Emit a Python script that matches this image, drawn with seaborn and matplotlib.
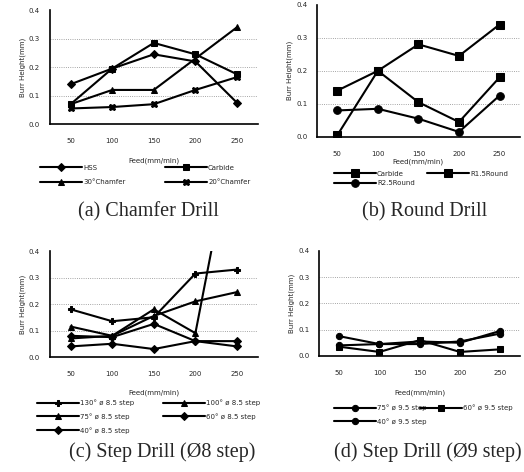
import numpy as np
import pandas as pd
import seaborn as sns
import matplotlib
matplotlib.use('Agg')
import matplotlib.pyplot as plt

# feed rates (mm/min)
feed = [50, 100, 150, 200, 250]

# (a) chamfer drill
chamfer_labels = ['HSS', 'Carbide', '30°Chamfer', '20°Chamfer']
chamfer_values = [
    [0.14, 0.195, 0.245, 0.22, 0.075],
    [0.07, 0.195, 0.285, 0.245, 0.175],
    [0.07, 0.12, 0.12, 0.23, 0.34],
    [0.055, 0.06, 0.07, 0.12, 0.165],
]

# (b) round drill
round_labels = ['Carbide', 'R1.5Round', 'R2.5Round']
round_values = [
    [0.14, 0.20, 0.28, 0.245, 0.34],
    [0.005, 0.20, 0.105, 0.045, 0.18],
    [0.08, 0.085, 0.055, 0.015, 0.125],
]

# (c) step drill, 8 step
step8_labels = ['130° ø 8.5 step', '100° ø 8.5 step', '75° ø 8.5 step',
                '60° ø 8.5 step', '40° ø 8.5 step']
step8_values = [
    [0.18, 0.135, 0.15, 0.315, 0.33],
    [0.115, 0.08, 0.18, 0.09, 0.90],
    [0.07, 0.08, 0.155, 0.21, 0.245],
    [0.08, 0.075, 0.125, 0.06, 0.04],
    [0.04, 0.05, 0.03, 0.06, 0.06],
]

# (d) step drill, 9 step
step9_labels = ['75° ø 9.5 step', '60° ø 9.5 step', '40° ø 9.5 step']
step9_values = [
    [0.075, 0.045, 0.055, 0.05, 0.095],
    [0.035, 0.015, 0.06, 0.015, 0.025],
    [0.04, 0.045, 0.045, 0.055, 0.085],
]

sns.set_theme(style='white')
plt.rcParams['font.family'] = ['DejaVu Sans']

W, H = 524, 472
fig = plt.figure(figsize=(W / 100, H / 100), dpi=100)


def to_frame(labels, values):
    rows = []
    for lab, vals in zip(labels, values):
        for f, v in zip(feed, vals):
            rows.append({'feed': f, 'burr': v, 'series': lab})
    return pd.DataFrame(rows)


def panel(rect, labels, values, markers, col_x, row_y, row_gap, xlabel_y, msize=4.5):
    ax = fig.add_axes(rect)
    df = to_frame(labels, values)
    sns.lineplot(data=df, x='feed', y='burr', hue='series', style='series',
                 palette=['black'] * len(labels), markers=markers, dashes=False,
                 linewidth=1.5, markersize=msize, markeredgecolor='black',
                 ax=ax, legend=True)
    ax.set_xlim(25, 275)
    ax.set_ylim(0, 0.4)
    ax.set_xticks(feed)
    ax.set_yticks([0.0, 0.1, 0.2, 0.3, 0.4])
    ax.set_yticklabels(['0.0', '0.1', '0.2', '0.3', '0.4'])
    ax.tick_params(axis='x', labelsize=5, length=0, pad=10)
    ax.tick_params(axis='y', labelsize=5, length=0, pad=7)
    for y in [0.1, 0.2, 0.3]:
        ax.axhline(y, color='#888888', lw=0.6, ls=':', zorder=0)
    for s in ['top', 'right']:
        ax.spines[s].set_visible(False)
    for s in ['left', 'bottom']:
        ax.spines[s].set_color('black')
        ax.spines[s].set_linewidth(1.2)
    ax.set_ylabel('Burr Height(mm)', fontsize=5, labelpad=2)
    ax.set_xlabel('')
    fig.text(rect[0] + rect[2] / 2, 1 - xlabel_y / H, 'Feed(mm/min)',
             fontsize=5, ha='center', va='center')
    handles, labs = ax.get_legend_handles_labels()
    ax.get_legend().remove()
    # legend filled row by row, one legend per column
    ncol = len(col_x)
    spacing = (row_gap - 7) / 7
    for j, x in enumerate(col_x):
        hs = handles[j::ncol]
        ls = labs[j::ncol]
        fig.legend(hs, ls, loc='upper left',
                   bbox_to_anchor=(x / W, 1 - (row_y - 4.5) / H),
                   frameon=False, fontsize=5, handlelength=6,
                   labelspacing=spacing, handletextpad=0.2,
                   borderpad=0, borderaxespad=0)
    return ax


panel([0.095, 0.737, 0.397, 0.2415], chamfer_labels, chamfer_values,
      ['D', 's', '^', 'X'], [40, 165], 169, 16, 161)
panel([0.605, 0.710, 0.387, 0.28], round_labels, round_values,
      ['s', 's', 'o'], [334, 427], 175, 11, 162, msize=5.5)
panel([0.095, 0.2436, 0.397, 0.2246], step8_labels, step8_values,
      ['P', '^', '^', 'D', 'D'], [37, 163], 404, 14, 393)
panel([0.609, 0.246, 0.384, 0.2225], step9_labels, step9_values,
      ['o', 's', 'o'], [334, 420], 409, 14, 393)

caps = [(0.283, 0.551, '(a) Chamfer Drill'), (0.811, 0.551, '(b) Round Drill'),
        (0.31, 0.042, '(c) Step Drill (Ø8 step)'),
        (0.817, 0.042, '(d) Step Drill (Ø9 step)')]
for x, y, t in caps:
    fig.text(x, y, t, fontsize=14.5, ha='center', va='center',
             family=['Liberation Serif', 'DejaVu Serif'])

plt.savefig('out.png', dpi=100)
